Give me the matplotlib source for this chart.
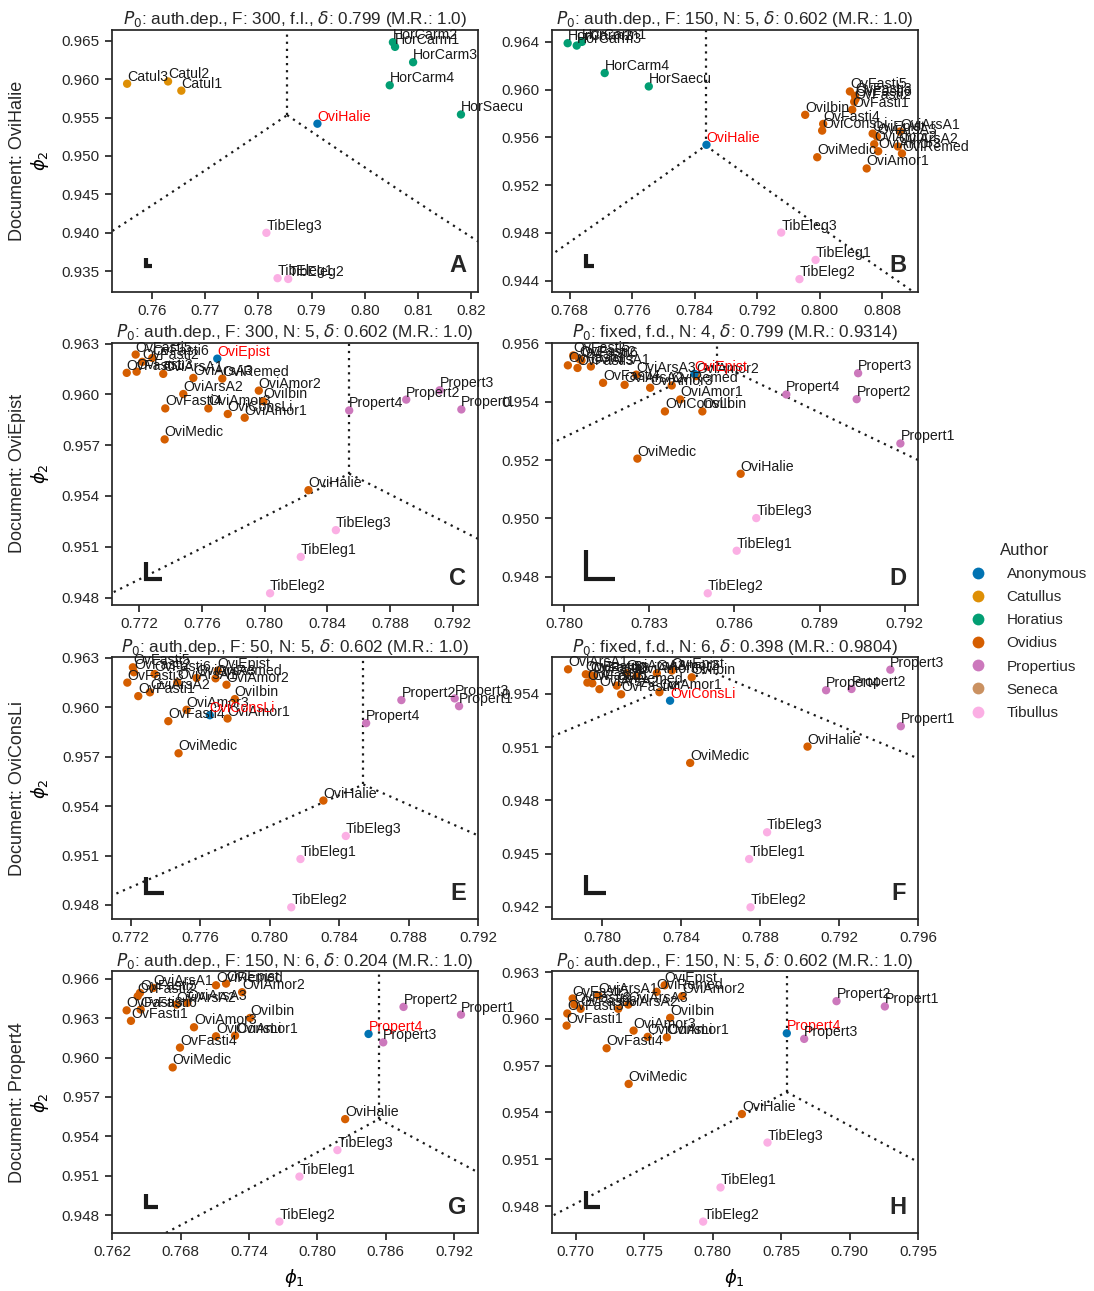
import numpy as np
import matplotlib
matplotlib.use("Agg")
import matplotlib.pyplot as plt
from matplotlib.lines import Line2D
from matplotlib.ticker import FixedLocator, FormatStrFormatter

plt.rcParams['font.family'] = ['Liberation Sans', 'DejaVu Sans']
plt.rcParams['text.color'] = '.15'
plt.rcParams['axes.edgecolor'] = '.15'
plt.rcParams['axes.linewidth'] = 1.25
plt.rcParams['xtick.color'] = '.15'
plt.rcParams['ytick.color'] = '.15'
plt.rcParams['xtick.major.size'] = 5
plt.rcParams['ytick.major.size'] = 5
plt.rcParams['xtick.major.width'] = 1.25
plt.rcParams['ytick.major.width'] = 1.25
plt.rcParams['xtick.labelsize'] = 11
plt.rcParams['ytick.labelsize'] = 11

# ---------------- data ----------------
authors = ["Anonymous", "Catullus", "Horatius", "Ovidius", "Propertius", "Seneca", "Tibullus"]
author_colors = ["#0173b2", "#de8f05", "#029e73", "#d55e00", "#cc78bc", "#ca9161", "#fbafe4"]

panel_letters = ["A", "B", "C", "D", "E", "F", "G", "H"]
documents = ["OviHalie", "OviHalie", "OviEpist", "OviEpist", "OviConsLi", "OviConsLi", "Propert4", "Propert4"]
titles = [
    r"$P_0$: auth.dep., F: 300, f.l., $\delta$: 0.799 (M.R.: 1.0)",
    r"$P_0$: auth.dep., F: 150, N: 5, $\delta$: 0.602 (M.R.: 1.0)",
    r"$P_0$: auth.dep., F: 300, N: 5, $\delta$: 0.602 (M.R.: 1.0)",
    r"$P_0$: fixed, f.d., N: 4, $\delta$: 0.799 (M.R.: 0.9314)",
    r"$P_0$: auth.dep., F: 50, N: 5, $\delta$: 0.602 (M.R.: 1.0)",
    r"$P_0$: fixed, f.d., N: 6, $\delta$: 0.398 (M.R.: 0.9804)",
    r"$P_0$: auth.dep., F: 150, N: 6, $\delta$: 0.204 (M.R.: 1.0)",
    r"$P_0$: auth.dep., F: 150, N: 5, $\delta$: 0.602 (M.R.: 1.0)",
]

A_names = ["Catul1", "Catul2", "Catul3", "HorCarm1", "HorCarm2", "HorCarm3", "HorCarm4", "HorSaecu",
           "OviHalie", "TibEleg1", "TibEleg2", "TibEleg3"]
A_phi1 = [0.7655, 0.7630, 0.7553, 0.8057, 0.8053, 0.8091, 0.8047, 0.8181, 0.7911, 0.7836, 0.7856, 0.7815]
A_phi2 = [0.9585, 0.9597, 0.9594, 0.9642, 0.9648, 0.9622, 0.9592, 0.9554, 0.9542, 0.9341, 0.9340, 0.9400]

B_names = ["HorCarm2", "HorCarm3", "HorCarm1", "HorCarm4", "HorSaecu", "OviHalie", "TibEleg1", "TibEleg2", "TibEleg3",
           "OvFasti5", "OvFasti3", "OvFasti6", "OvFasti2", "OvFasti1", "OviIbin", "OvFasti4", "OviConsLi",
           "OviEpist", "OviArsA3", "OviArsA1", "OviArsA2", "OviAmor2", "OviAmor3", "OviRemed", "OviMedic", "OviAmor1"]
B_phi1 = [0.76774, 0.76890, 0.76957, 0.77248, 0.77812, 0.78550, 0.79946, 0.79740, 0.79506,
          0.80385, 0.80449, 0.80458, 0.80440, 0.80415, 0.79813, 0.80043, 0.80030,
          0.80676, 0.80731, 0.81025, 0.81000, 0.80696, 0.80747, 0.81051, 0.79967, 0.80600]
B_phi2 = [0.96389, 0.96369, 0.96400, 0.96139, 0.96027, 0.95538, 0.94574, 0.94413, 0.94803,
          0.95985, 0.95949, 0.95922, 0.95899, 0.95832, 0.95789, 0.95713, 0.95657,
          0.95632, 0.95607, 0.95649, 0.95524, 0.95543, 0.95484, 0.95465, 0.95434, 0.95340]

C_names = ["OvFasti5", "OvFasti6", "OvFasti2", "OvFasti3", "OvFasti1", "OviArsA1", "OviArsA3", "OviRemed",
           "OviArsA2", "OviAmor2", "OviIbin", "OvFasti4", "OviAmor3", "OviConsLi", "OviAmor1", "OviMedic",
           "OviHalie", "OviEpist", "Propert1", "Propert2", "Propert3", "Propert4", "TibEleg1", "TibEleg2", "TibEleg3"]
C_phi1 = [0.77177, 0.77283, 0.77219, 0.77183, 0.77120, 0.77353, 0.77545, 0.77730,
          0.77481, 0.77963, 0.77992, 0.77366, 0.77641, 0.77765, 0.77873, 0.77362,
          0.78280, 0.77698, 0.79256, 0.78904, 0.79117, 0.78540, 0.78231, 0.78035, 0.78455]
C_phi2 = [0.96235, 0.96215, 0.96192, 0.96134, 0.96127, 0.96121, 0.96097, 0.96093,
          0.96002, 0.96022, 0.95959, 0.95917, 0.95917, 0.95884, 0.95862, 0.95734,
          0.95434, 0.96211, 0.95911, 0.95969, 0.96024, 0.95905, 0.95040, 0.94825, 0.95198]

D_names = ["OvFasti5", "OvFasti2", "OvFasti6", "OvFasti1", "OvFasti3", "OviArsA1", "OviArsA3", "OvFasti4",
           "OviArsA2", "OviAmor3", "OviRemed", "OviAmor2", "OviAmor1", "OviConsLi", "OviIbin", "OviMedic",
           "OviHalie", "OviEpist", "Propert4", "Propert3", "Propert2", "Propert1", "TibEleg3", "TibEleg1", "TibEleg2"]
D_phi1 = [0.78032, 0.78053, 0.78061, 0.78013, 0.78047, 0.78094, 0.78254, 0.78137,
          0.78213, 0.78303, 0.78379, 0.78465, 0.78409, 0.78355, 0.78487, 0.78258,
          0.78622, 0.78459, 0.78783, 0.79036, 0.79031, 0.79185, 0.78677, 0.78608, 0.78506]
D_phi2 = [0.95559, 0.95547, 0.95542, 0.95525, 0.95516, 0.95521, 0.95493, 0.95465,
          0.95458, 0.95448, 0.95456, 0.95488, 0.95408, 0.95367, 0.95367, 0.95205,
          0.95153, 0.95496, 0.95425, 0.95498, 0.95409, 0.95257, 0.95001, 0.94889, 0.94743]

E_names = ["OvFasti5", "OvFasti2", "OvFasti6", "OvFasti3", "OvFasti1", "OviArsA2", "OviArsA1", "OviArsA3",
           "OviRemed", "OviEpist", "OviAmor2", "OviIbin", "OviAmor3", "OvFasti4", "OviAmor1", "OviMedic",
           "OviConsLi", "OviHalie", "Propert2", "Propert3", "Propert1", "Propert4", "TibEleg3", "TibEleg1", "TibEleg2"]
E_phi1 = [0.77213, 0.77219, 0.77338, 0.77181, 0.77244, 0.77311, 0.77469, 0.77580,
          0.77689, 0.77702, 0.77752, 0.77800, 0.77522, 0.77417, 0.77758, 0.77476,
          0.77656, 0.78310, 0.78759, 0.79066, 0.79091, 0.78556, 0.78439, 0.78178, 0.78125]
E_phi2 = [0.96243, 0.96213, 0.96202, 0.96150, 0.96068, 0.96091, 0.96152, 0.96178,
          0.96176, 0.96223, 0.96137, 0.96050, 0.95985, 0.95916, 0.95932, 0.95721,
          0.95952, 0.95434, 0.96044, 0.96054, 0.96007, 0.95904, 0.95219, 0.95079, 0.94786]

F_names = ["OviArsA1", "OvFasti5", "OvFasti2", "OvFasti6", "OvFasti3", "OvFasti1", "OviArsA2", "OviRemed",
           "OvFasti4", "OviArsA3", "OviAmor3", "OviAmor2", "OviEpist", "OviIbin", "OviAmor1", "OviMedic",
           "OviConsLi", "OviHalie", "Propert4", "Propert2", "Propert3", "Propert1", "TibEleg3", "TibEleg1", "TibEleg2"]
F_phi1 = [0.77826, 0.77916, 0.77938, 0.77954, 0.77924, 0.77949, 0.77985, 0.78073,
          0.78095, 0.78124, 0.78174, 0.78276, 0.78352, 0.78453, 0.78289, 0.78445,
          0.78343, 0.79040, 0.79134, 0.79263, 0.79460, 0.79513, 0.78835, 0.78744, 0.78751]
F_phi2 = [0.95539, 0.95511, 0.95507, 0.95502, 0.95464, 0.95460, 0.95427, 0.95447,
          0.95398, 0.95517, 0.95502, 0.95517, 0.95532, 0.95494, 0.95410, 0.95011,
          0.95362, 0.95103, 0.95421, 0.95428, 0.95537, 0.95218, 0.94620, 0.94469, 0.94197]

G_names = ["OvFasti5", "OvFasti2", "OvFasti3", "OvFasti6", "OvFasti1", "OviArsA1", "OviArsA2", "OviArsA3",
           "OviRemed", "OviEpist", "OviAmor2", "OviIbin", "OviAmor3", "OviConsLi", "OviAmor1", "OvFasti4",
           "OviMedic", "OviHalie", "Propert4", "Propert3", "Propert2", "Propert1", "TibEleg3", "TibEleg1", "TibEleg2"]
G_phi1 = [0.76443, 0.76423, 0.76326, 0.76449, 0.76364, 0.76560, 0.76765, 0.76859,
          0.77110, 0.77198, 0.77339, 0.77409, 0.76917, 0.77110, 0.77277, 0.76794,
          0.76730, 0.78243, 0.78448, 0.78577, 0.78755, 0.79259, 0.78175, 0.77842, 0.77666]
G_phi2 = [0.96493, 0.96467, 0.96360, 0.96366, 0.96280, 0.96531, 0.96404, 0.96417,
          0.96551, 0.96564, 0.96498, 0.96302, 0.96231, 0.96162, 0.96167, 0.96076,
          0.95925, 0.95531, 0.96180, 0.96116, 0.96386, 0.96327, 0.95295, 0.95093, 0.94750]

H_names = ["OvFasti5", "OvFasti2", "OvFasti6", "OvFasti3", "OvFasti1", "OviArsA1", "OviArsA2", "OviArsA3",
           "OviRemed", "OviEpist", "OviAmor2", "OviIbin", "OviAmor3", "OviConsLi", "OviAmor1", "OvFasti4",
           "OviMedic", "OviHalie", "Propert4", "Propert3", "Propert2", "Propert1", "TibEleg3", "TibEleg1", "TibEleg2"]
H_phi1 = [0.76978, 0.76990, 0.77036, 0.76939, 0.76934, 0.77165, 0.77311, 0.77384,
          0.77591, 0.77650, 0.77778, 0.77690, 0.77423, 0.77526, 0.77666, 0.77226,
          0.77387, 0.78214, 0.78542, 0.78669, 0.78905, 0.79258, 0.78401, 0.78058, 0.77931]
H_phi2 = [0.96131, 0.96092, 0.96065, 0.96035, 0.95957, 0.96150, 0.96065, 0.96092,
          0.96174, 0.96216, 0.96146, 0.96007, 0.95925, 0.95885, 0.95882, 0.95812,
          0.95583, 0.95390, 0.95908, 0.95872, 0.96114, 0.96080, 0.95207, 0.94919, 0.94700]

# axis ranges and ticks
xlims = [(0.7524, 0.8213), (0.7657, 0.81256), (0.77024, 0.79362), (0.77956, 0.79247),
         (0.77091, 0.792), (0.77743, 0.796), (0.76195, 0.79408), (0.76825, 0.795)]
ylims = [(0.9323, 0.9664), (0.94305, 0.965), (0.94756, 0.96304), (0.94703, 0.95602),
         (0.94713, 0.96304), (0.94129, 0.95607), (0.94661, 0.96658), (0.94625, 0.96306)]
xticks = [[0.76, 0.77, 0.78, 0.79, 0.80, 0.81, 0.82],
          [0.768, 0.776, 0.784, 0.792, 0.800, 0.808],
          [0.772, 0.776, 0.780, 0.784, 0.788, 0.792],
          [0.780, 0.783, 0.786, 0.789, 0.792],
          [0.772, 0.776, 0.780, 0.784, 0.788, 0.792],
          [0.780, 0.784, 0.788, 0.792, 0.796],
          [0.762, 0.768, 0.774, 0.780, 0.786, 0.792],
          [0.770, 0.775, 0.780, 0.785, 0.790, 0.795]]
yticks = [[0.935, 0.940, 0.945, 0.950, 0.955, 0.960, 0.965],
          [0.944, 0.948, 0.952, 0.956, 0.960, 0.964],
          [0.948, 0.951, 0.954, 0.957, 0.960, 0.963],
          [0.948, 0.950, 0.952, 0.954, 0.956],
          [0.948, 0.951, 0.954, 0.957, 0.960, 0.963],
          [0.942, 0.945, 0.948, 0.951, 0.954],
          [0.948, 0.951, 0.954, 0.957, 0.960, 0.963, 0.966],
          [0.948, 0.951, 0.954, 0.957, 0.960, 0.963]]
xfmt = ['%.2f'] + ['%.3f'] * 7
scale_len = 0.001  # L-shaped scale bar length (data units)

panels = [(A_names, A_phi1, A_phi2), (B_names, B_phi1, B_phi2), (C_names, C_phi1, C_phi2),
          (D_names, D_phi1, D_phi2), (E_names, E_phi1, E_phi2), (F_names, F_phi1, F_phi2),
          (G_names, G_phi1, G_phi2), (H_names, H_phi1, H_phi2)]


def author_of(name, doc):
    if name == doc:
        return "Anonymous"
    if name.startswith("Catul"):
        return "Catullus"
    if name.startswith("Hor"):
        return "Horatius"
    if name.startswith("Prop"):
        return "Propertius"
    if name.startswith("Tib"):
        return "Tibullus"
    if name.startswith("Sen"):
        return "Seneca"
    return "Ovidius"


color_of = dict(zip(authors, author_colors))

# ---------------- figure ----------------
fig = plt.figure(figsize=(10.94, 12.91), dpi=100)
lefts = [0.1021, 0.5043]
bottoms = [0.7738, 0.5314, 0.2879, 0.0447]
W, H = 0.3348, 0.2030

for i, (names, p1, p2) in enumerate(panels):
    r, c = divmod(i, 2)
    ax = fig.add_axes([lefts[c], bottoms[r], W, H])
    doc = documents[i]
    x0, x1 = xlims[i]
    y0, y1 = ylims[i]

    # decision boundaries (equal-coordinate great circles)
    pj = np.pi / 4
    tj = np.arctan(np.sqrt(2))
    ls = (0, (1, 2.2))
    xl = np.linspace(x0 - 0.01, pj, 200)
    ax.plot(xl, np.arctan(1 / np.cos(xl)), color='.1', lw=1.6, ls=ls)
    xr = np.linspace(pj, x1 + 0.01, 200)
    ax.plot(xr, np.arctan(1 / np.sin(xr)), color='.1', lw=1.6, ls=ls)
    ax.plot([pj, pj], [tj, y1 + 0.01], color='.1', lw=1.6, ls=ls)

    cols = [color_of[author_of(n, doc)] for n in names]
    ax.scatter(p1, p2, c=cols, s=36, linewidths=0, zorder=3)
    for n, a, b in zip(names, p1, p2):
        ax.text(a, b, n, fontsize=10.2, ha='left', va='bottom',
                color='red' if n == doc else '.1', zorder=4)

    # L-shaped scale bar
    cx = x0 + 0.095 * (x1 - x0)
    cy = y0 + 0.10 * (y1 - y0)
    ax.plot([cx, cx, cx + scale_len], [cy + scale_len, cy, cy], color='.1', lw=3,
            solid_joinstyle='miter', solid_capstyle='butt', zorder=5)

    ax.set_xlim(x0, x1)
    ax.set_ylim(y0, y1)
    ax.xaxis.set_major_locator(FixedLocator(xticks[i]))
    ax.yaxis.set_major_locator(FixedLocator(yticks[i]))
    ax.xaxis.set_major_formatter(FormatStrFormatter(xfmt[i]))
    ax.yaxis.set_major_formatter(FormatStrFormatter('%.3f'))
    ax.set_title(titles[i], fontsize=12.3, pad=4)
    ax.text(0.968, 0.075, panel_letters[i], transform=ax.transAxes, ha='right', va='baseline',
            fontsize=17, fontweight='bold', color='.15')

    if c == 0:
        ax.set_ylabel(r'$\phi_2$', fontsize=13)
        ax.yaxis.label.set_va('center')
        ax.yaxis.set_label_coords(-0.196, 0.5)
        ax.text(-0.256, 0.5, "Document: " + doc, transform=ax.transAxes, rotation=90,
                ha='center', va='center', fontsize=13)
    if r == 3:
        ax.set_xlabel(r'$\phi_1$', fontsize=13)
        ax.xaxis.label.set_va('center')
        ax.xaxis.set_label_coords(0.5, -0.172)

handles = [Line2D([], [], marker='o', ls='', markersize=8.5, markerfacecolor=col, markeredgewidth=0)
           for col in author_colors]
fig.legend(handles, authors, title="Author", loc='center left', bbox_to_anchor=(0.867, 0.511),
           frameon=False, fontsize=11, title_fontsize=12, handletextpad=0.9, labelspacing=0.6)

fig.savefig("out.png", dpi=100)
